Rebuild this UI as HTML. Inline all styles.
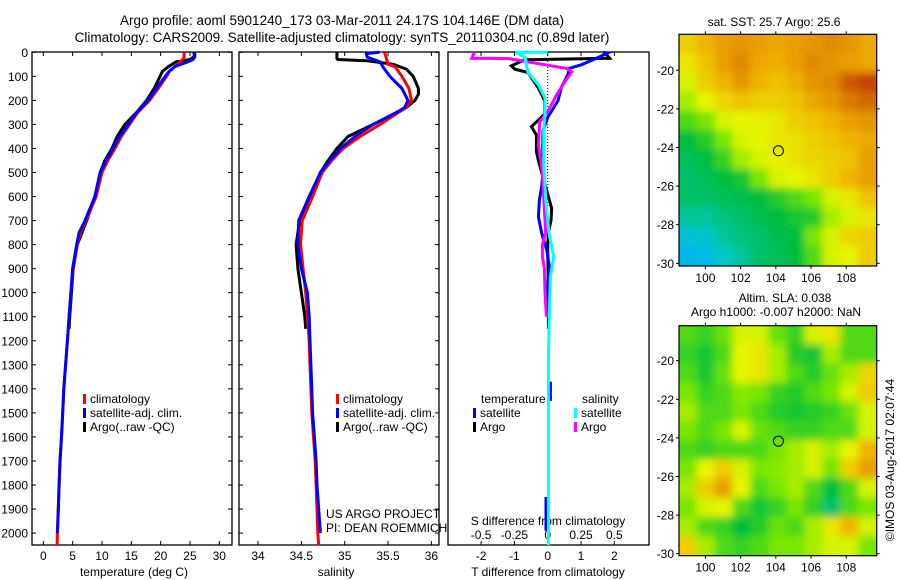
<!DOCTYPE html>
<html><head><meta charset="utf-8">
<style>
html,body{margin:0;padding:0;background:#fff;}
svg{display:block;font-family:"Liberation Sans",sans-serif;}
text{font-size:12px;fill:#000;}
</style></head>
<body>
<svg id="chart" width="900" height="580" viewBox="0 0 900 580" xmlns="http://www.w3.org/2000/svg">
<rect width="900" height="580" fill="#fff"/>
<text x="342" y="25" text-anchor="middle" style="font-size:13.5px">Argo profile: aoml 5901240_173 03-Mar-2011 24.17S 104.146E (DM data)</text>
<text x="342" y="42" text-anchor="middle" style="font-size:13.5px">Climatology: CARS2009. Satellite-adjusted climatology: synTS_20110304.nc (0.89d later)</text>
<g id="g1"></g>
<g id="g2"></g>
<g id="g3"></g>
<g id="g4"></g>
<g id="g5"></g>
<text x="774" y="26" text-anchor="middle">sat. SST: 25.7 Argo: 25.6</text>
<text x="785" y="302" text-anchor="middle">Altim. SLA: 0.038</text>
<text x="776" y="316" text-anchor="middle">Argo h1000: -0.007 h2000: NaN</text>
<text transform="translate(894,460) rotate(-90)" text-anchor="middle">©IMOS 03-Aug-2017 02:07:44</text>
<text x="326" y="518">US ARGO PROJECT</text>
<text x="326" y="532">PI: DEAN ROEMMICH</text>
</svg>
<script>
// ---------- data ----------
const depthTicks=[0,100,200,300,400,500,600,700,800,900,1000,1100,1200,1300,1400,1500,1600,1700,1800,1900,2000];
const tempTicks=[0,5,10,15,20,25,30];
const salTicks=[34,34.5,35,35.5,36];
const salTickLabels=["34","34.5","35","35.5","36"];
const tdiffTicks=[-2,-1,0,1,2];
const sdiffTicks=[-0.5,-0.25,0,0.25,0.5];
const sdiffTickLabels=["-0.5","-0.25","0","0.25","0.5"];

const tempClimDepth=[0,20,30,40,60,80,100,150,200,250,300,350,400,450,500,600,700,750,800,900,1000,1100,1200,1300,1400,1500,1600,1700,1800,1900,2000,2050];
const tempClim=[24.0,24.0,23.8,23.3,22.4,21.5,21.0,19.6,18.1,16.1,14.7,13.3,12.2,11.0,10.0,9.0,7.3,6.3,5.8,5.1,4.7,4.4,4.1,3.8,3.5,3.3,3.1,2.85,2.7,2.55,2.4,2.35];
const tempSatDepth=[0,20,30,40,60,80,100,150,200,250,300,350,400,450,500,600,700,750,800,900,1000,1100,1200,1300,1400,1500,1600,1700,1800,1900,2000];
const tempSat=[25.8,25.8,25.5,24.6,22.4,21.4,20.8,19.3,17.9,15.9,14.5,13.0,11.9,10.7,9.7,8.8,7.1,6.1,5.7,5.0,4.7,4.4,4.1,3.8,3.5,3.3,3.1,2.85,2.7,2.55,2.4];
const tempArgoDepth=[0,10,20,30,40,60,80,100,150,200,250,300,350,400,450,500,600,700,800,900,1000,1100,1150];
const tempArgo=[25.6,25.8,25.6,25.0,22.6,21.3,20.3,19.9,18.9,17.6,15.9,13.9,12.6,11.7,10.5,9.7,8.8,7.4,5.8,5.1,4.8,4.5,4.4];

const salClimDepth=[0,50,60,100,150,200,230,250,300,350,400,450,500,600,700,800,900,1000,1100,1200,1300,1400,1500,1600,1700,1800,1900,2000,2050];
const salClim=[35.46,35.5,35.58,35.66,35.74,35.77,35.71,35.62,35.41,35.18,34.98,34.85,34.74,34.63,34.51,34.49,34.52,34.55,34.57,34.59,34.6,34.61,34.62,34.64,34.66,34.67,34.68,34.69,34.7];
const salSatDepth=[0,5,20,40,60,100,150,200,230,250,300,350,400,450,500,600,700,800,900,1000,1100,1200,1300,1400,1500,1600,1700,1800,1900,2000];
const salSat=[35.4,35.25,35.26,35.41,35.44,35.52,35.66,35.73,35.69,35.6,35.33,35.12,34.95,34.83,34.72,34.59,34.47,34.46,34.5,34.57,34.59,34.6,34.61,34.62,34.63,34.65,34.67,34.68,34.7,34.72];
const salArgoDepth=[0,25,30,35,50,70,100,150,175,200,230,250,300,350,400,450,500,600,700,750,800,900,1000,1100,1150];
const salArgo=[34.91,34.91,34.92,35.25,35.56,35.71,35.79,35.85,35.85,35.81,35.71,35.6,35.33,35.04,34.91,34.81,34.72,34.6,34.48,34.46,34.44,34.46,34.5,34.54,34.55];

const tdSatDepth=[0,3,31,52,66,94,146,201,271,326,400,476,559,614,684,753,822,892,961,1100,1101,1370,1450,1451,1850,1990];
const tdSat=[1.66,1.8,1.36,1.01,0.66,0.6,0.41,0.31,0.0,-0.14,-0.15,-0.13,-0.18,-0.25,-0.28,-0.18,-0.03,0.05,0.0,-0.03,null,0.08,0.08,null,-0.05,-0.05];
const tdArgoDepth=[0,25,31,56,70,84,146,201,257,309,344,413,450,500,550,600,650,700,750,800,900,1000,1150];
const tdArgo=[1.71,1.86,-0.69,-1.09,-0.99,-0.59,-0.29,-0.09,-0.09,-0.49,-0.34,-0.34,-0.28,-0.18,-0.08,0.02,0.12,0.1,0.02,0,0.01,0.02,0.02];
const sdArgoDepth=[0,25,26,67,81,122,178,247,289,386,455,500,600,700,750,800,850,900,1000,1100];
const sdArgo=[-0.55,-0.57,-0.29,0.14,0.18,0.13,0.065,0.0,-0.06,-0.07,-0.05,-0.04,-0.03,-0.02,-0.015,-0.04,-0.04,-0.025,-0.02,-0.01];
const sdSatDepth=[0,1,21,81,136,191,257,324,455,614,753,850,933,1030,1148,1300,1500,1700,1900,2050];
const sdSat=[0,-0.24,-0.17,-0.15,-0.07,-0.02,-0.02,-0.03,-0.03,-0.015,0.01,0.045,0.02,0.015,0.01,0.005,0.005,0.005,0.005,0.005];

const lonTicks=[100,102,104,106,108];
const latTicks=[-20,-22,-24,-26,-28,-30];
const sstGrid=[
[0.7,0.75,0.8,0.82,0.8,0.78,0.8,0.82,0.85,0.82,0.78],
[0.65,0.72,0.8,0.85,0.78,0.76,0.8,0.85,0.82,0.8,0.78],
[0.6,0.7,0.75,0.82,0.75,0.72,0.76,0.82,0.85,0.92,0.95],
[0.55,0.62,0.68,0.72,0.7,0.7,0.72,0.78,0.82,0.88,0.9],
[0.45,0.5,0.6,0.62,0.63,0.65,0.7,0.72,0.75,0.8,0.82],
[0.35,0.4,0.5,0.6,0.62,0.65,0.66,0.7,0.72,0.75,0.78],
[0.32,0.35,0.42,0.55,0.6,0.63,0.66,0.68,0.7,0.72,0.8],
[0.3,0.32,0.35,0.38,0.5,0.6,0.62,0.65,0.7,0.75,0.8],
[0.3,0.3,0.32,0.33,0.35,0.4,0.45,0.5,0.6,0.65,0.72],
[0.25,0.25,0.28,0.3,0.33,0.35,0.38,0.4,0.55,0.6,0.65],
[0.15,0.18,0.25,0.28,0.3,0.33,0.35,0.5,0.6,0.68,0.7],
[0.08,0.1,0.2,0.25,0.3,0.32,0.35,0.45,0.6,0.62,0.7]];
const slaGrid=[
[0.45,0.42,0.48,0.6,0.6,0.48,0.42,0.6,0.65,0.45,0.45],
[0.42,0.38,0.45,0.62,0.65,0.55,0.4,0.38,0.55,0.45,0.45],
[0.45,0.38,0.48,0.62,0.65,0.55,0.45,0.4,0.48,0.55,0.68],
[0.5,0.42,0.45,0.52,0.5,0.42,0.4,0.45,0.5,0.6,0.7],
[0.55,0.45,0.45,0.5,0.45,0.4,0.38,0.4,0.42,0.48,0.6],
[0.5,0.45,0.5,0.6,0.48,0.45,0.42,0.42,0.45,0.45,0.6],
[0.45,0.42,0.45,0.45,0.45,0.5,0.55,0.6,0.55,0.62,0.75],
[0.5,0.62,0.7,0.6,0.5,0.52,0.55,0.6,0.5,0.7,0.8],
[0.55,0.7,0.8,0.62,0.45,0.5,0.55,0.45,0.35,0.45,0.6],
[0.5,0.6,0.62,0.45,0.38,0.42,0.5,0.42,0.3,0.45,0.5],
[0.55,0.45,0.42,0.35,0.4,0.48,0.45,0.55,0.65,0.75,0.6],
[0.7,0.55,0.45,0.42,0.45,0.5,0.5,0.55,0.6,0.6,0.5]];
const argoLon=[104.146];
const argoLat=[-24.17];

// ---------- helpers ----------
const NS="http://www.w3.org/2000/svg";
function mk(parent,tag,attrs){const e=document.createElementNS(NS,tag);for(const k in attrs)e.setAttribute(k,attrs[k]);parent.appendChild(e);return e;}
const yD=d=>52.3+d*0.2404;
const xT=v=>43.3+v*5.867;
const xS=v=>258+(v-34)*86.7;
const xTd=v=>547.7+v*33.3;
const xSd=v=>547.7+v*133.3;
function linePath(depths,vals,fx){let s="",pen=false;for(let i=0;i<depths.length;i++){if(vals[i]===null){pen=false;continue;}s+=(pen?"L":"M")+fx(vals[i]).toFixed(1)+","+yD(depths[i]).toFixed(1);pen=true;}return s;}

function frame(g,x0,x1,y0,y1){const r=mk(g,"rect",{x:x0,y:y0,width:x1-x0,height:y1-y0,fill:"none",stroke:"#000","stroke-width":1.3});}

// ---------- panel 1 ----------
const g1=document.getElementById('g1');
frame(g1,32,232,52,545);
depthTicks.forEach(d=>{const y=yD(d);
 mk(g1,"line",{x1:32,x2:36,y1:y,y2:y,stroke:"#000"});mk(g1,"line",{x1:228,x2:232,y1:y,y2:y,stroke:"#000"});
 const t=mk(g1,"text",{x:28,y:y+4.5,"text-anchor":"end"});t.textContent=d;
 });
tempTicks.forEach(v=>{const x=xT(v);
 mk(g1,"line",{x1:x,x2:x,y1:52,y2:56,stroke:"#000"});mk(g1,"line",{x1:x,x2:x,y1:541,y2:545,stroke:"#000"});
 const t=mk(g1,"text",{x:x,y:560,"text-anchor":"middle"});t.textContent=v;
 });
{const t=mk(g1,"text",{x:134,y:576,"text-anchor":"middle"});t.textContent="temperature (deg C)";}
[[tempArgoDepth,tempArgo,"#000","argo-temperature"],[tempClimDepth,tempClim,"#f00","clim-temperature"],[tempSatDepth,tempSat,"#00f","satellite-temperature"]].forEach(s=>{
 const p=mk(g1,"path",{d:linePath(s[0],s[1],xT),fill:"none",stroke:s[2],"stroke-width":3});
 });

function legend(g,x,y,items,nm){items.forEach((it,i)=>{const yy=y+i*14;
 const r=mk(g,"rect",{x:x,y:yy-9,width:3,height:10,fill:it[0]});
 
 const t=mk(g,"text",{x:x+7,y:yy});t.textContent=it[1];
 });}
legend(g1,83,403,[["#f00","climatology"],["#00f","satellite-adj. clim."],["#000","Argo(..raw -QC)"]],'temp-legend');

// ---------- panel 2 ----------
const g2=document.getElementById('g2');
frame(g2,239,439,52,545);
depthTicks.forEach(d=>{const y=yD(d);mk(g2,"line",{x1:239,x2:243,y1:y,y2:y,stroke:"#000"});mk(g2,"line",{x1:435,x2:439,y1:y,y2:y,stroke:"#000"});});
salTicks.forEach((v,i)=>{const x=xS(v);
 mk(g2,"line",{x1:x,x2:x,y1:52,y2:56,stroke:"#000"});mk(g2,"line",{x1:x,x2:x,y1:541,y2:545,stroke:"#000"});
 const t=mk(g2,"text",{x:x,y:560,"text-anchor":"middle"});t.textContent=salTickLabels[i];
 });
{const t=mk(g2,"text",{x:336,y:576,"text-anchor":"middle"});t.textContent="salinity";}
[[salArgoDepth,salArgo,"#000","argo-salinity"],[salClimDepth,salClim,"#f00","clim-salinity"],[salSatDepth,salSat,"#00f","satellite-salinity"]].forEach(s=>{
 const p=mk(g2,"path",{d:linePath(s[0],s[1],xS),fill:"none",stroke:s[2],"stroke-width":3});
 });
legend(g2,336,403,[["#f00","climatology"],["#00f","satellite-adj. clim."],["#000","Argo(..raw -QC)"]],'sal-legend');

// ---------- panel 3 ----------
const g3=document.getElementById('g3');
mk(g3,"rect",{x:441,y:52,width:207,height:493,fill:"#fff"});
frame(g3,448,649,52,545);
mk(g3,"line",{x1:547.7,x2:547.7,y1:52,y2:yD(1100),stroke:"#000","stroke-dasharray":"1,2"});
tdiffTicks.forEach(v=>{const x=xTd(v);mk(g3,"line",{x1:x,x2:x,y1:541,y2:545,stroke:"#000"});
 const t=mk(g3,"text",{x:x,y:560,"text-anchor":"middle"});t.textContent=v;
 });
sdiffTicks.forEach((v,i)=>{const x=xSd(v);mk(g3,"line",{x1:x,x2:x,y1:52,y2:56,stroke:"#000"});
 const t=mk(g3,"text",{x:x,y:539,"text-anchor":"middle"});t.textContent=sdiffTickLabels[i];
 });
{const t=mk(g3,"text",{x:548,y:576,"text-anchor":"middle"});t.textContent="T difference from climatology";}
{const t=mk(g3,"text",{x:548,y:525,"text-anchor":"middle"});t.textContent="S difference from climatology";}
[[tdArgoDepth,tdArgo,"#000",xTd,"argo-tdiff"],[tdSatDepth,tdSat,"#00f",xTd,"satellite-tdiff"],[sdArgoDepth,sdArgo,"#f0f",xSd,"argo-sdiff"],[sdSatDepth,sdSat,"#0ff",xSd,"satellite-sdiff"]].forEach(s=>{
 const p=mk(g3,"path",{d:linePath(s[0],s[1],s[3]),fill:"none",stroke:s[2],"stroke-width":3});
 });
{const t=mk(g3,"text",{x:481,y:403});t.textContent="temperature";
 const t2=mk(g3,"text",{x:582,y:403});t2.textContent="salinity";}
legend(g3,473,417,[["#00f","satellite"],["#000","Argo"]],'diff-t-legend');
legend(g3,574,417,[["#0ff","satellite"],["#f0f","Argo"]],'diff-s-legend');

// ---------- maps ----------
const cmapStops=[[0,[0,170,255]],[0.2,[0,200,200]],[0.35,[0,190,60]],[0.5,[120,230,0]],[0.62,[230,245,0]],[0.75,[240,180,0]],[0.87,[220,130,0]],[1,[180,30,0]]];
function cmap(v){for(let i=1;i<cmapStops.length;i++){if(v<=cmapStops[i][0]){const a=cmapStops[i-1],b=cmapStops[i],f=(v-a[0])/(b[0]-a[0]);return "rgb("+a[1].map((c,k)=>Math.round(c+(b[1][k]-c)*f)).join(",")+")";}}return "rgb(180,30,0)";}
function drawMap(g,grid,yTop,yBot,lat20y,nm){
 const x0=679,x1=876.7,lon0=98.5,lon1=109.73;
 const xL=lon=>x0+(lon-lon0)*(x1-x0)/(lon1-lon0);
 const yL=lat=>lat20y+(-20-lat)*19.3;
 const rows=grid.length,cols=grid[0].length;
 const cw=(x1-x0)/cols,ch=(yBot-yTop)/rows;
 const cid="clip"+nm;const cp=mk(g,"clipPath",{id:cid});mk(cp,"rect",{x:x0,y:yTop,width:x1-x0,height:yBot-yTop});
 const fid="blur"+nm;const fl=mk(g,"filter",{id:fid,x:"-5%",y:"-5%",width:"110%",height:"110%"});mk(fl,"feGaussianBlur",{stdDeviation:4});
 const cg=mk(g,"g",{"clip-path":"url(#"+cid+")"});const bg=mk(cg,"g",{filter:"url(#"+fid+")"});
 grid.forEach((row,r)=>row.forEach((v,c)=>{const cell=mk(bg,"rect",{x:x0+c*cw-0.5-(c==0?8:0),y:yTop+r*ch-0.5-(r==0?8:0),width:cw+1+(c==0||c==cols-1?8:0),height:ch+1+(r==0||r==rows-1?8:0),fill:cmap(v)});
  }));
 const fr=mk(g,"rect",{x:x0,y:yTop,width:x1-x0,height:yBot-yTop,fill:"none",stroke:"#000","stroke-width":1.2});
 
 lonTicks.forEach(l=>{const x=xL(l);mk(g,"line",{x1:x,x2:x,y1:yTop-3,y2:yTop,stroke:"#000"});mk(g,"line",{x1:x,x2:x,y1:yBot,y2:yBot+3,stroke:"#000"});
  const t=mk(g,"text",{x:x,y:yBot+16,"text-anchor":"middle"});t.textContent=l;
  });
 latTicks.forEach(l=>{const y=yL(l);mk(g,"line",{x1:x0-3,x2:x0,y1:y,y2:y,stroke:"#000"});mk(g,"line",{x1:x1,x2:x1+3,y1:y,y2:y,stroke:"#000"});
  const t=mk(g,"text",{x:x0-5,y:y+4.5,"text-anchor":"end"});t.textContent=l;
  });
 argoLon.forEach((lo,i)=>{const c=mk(g,"circle",{cx:xL(lo),cy:yL(argoLat[i]),r:5,fill:"none",stroke:"#000","stroke-width":1});
  });
}
drawMap(document.getElementById('g4'),sstGrid,34.3,266,70.3,'sst');
drawMap(document.getElementById('g5'),slaGrid,325.7,555.7,360.7,'sla');
</script>
</body></html>
